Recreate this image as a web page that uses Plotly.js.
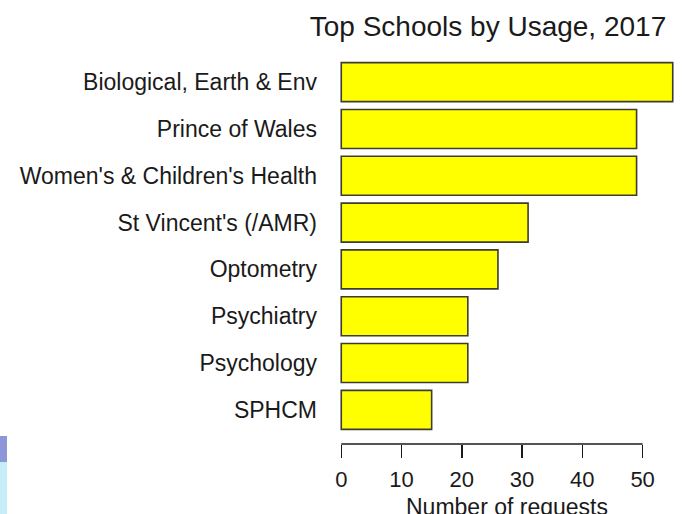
<!DOCTYPE html>
<html>
<head>
<meta charset="utf-8">
<script src="https://cdn.plot.ly/plotly-3.0.1.min.js"></script>
<style>html,body{margin:0;padding:0;background:#fff;}#chart{width:691px;height:514px;}</style>
</head>
<body>
<div id="chart"></div>
<script>
var schools = ["Biological, Earth & Env", "Prince of Wales", "Women's & Children's Health", "St Vincent's (/AMR)", "Optometry", "Psychiatry", "Psychology", "SPHCM"];
var requests = [55, 49, 49, 31, 26, 21, 21, 15];
var tickValues = [0, 10, 20, 30, 40, 50];
var tickLabels = ["0", "10", "20", "30", "40", "50"];
var xAxisTitle = "Number of requests";

var font = "Liberation Sans, Arial, Helvetica, sans-serif";

var trace = {
  type: "bar",
  orientation: "h",
  y: schools,
  x: requests,
  marker: {color: "#ffff00", line: {color: "rgb(60,60,50)", width: 1.6}},
  hoverinfo: "x+y"
};

var layout = {
  width: 691, height: 514,
  margin: {l: 328, r: 5, t: 48, b: 70},
  paper_bgcolor: "#ffffff",
  plot_bgcolor: "#ffffff",
  showlegend: false,
  bargap: 0.167,
  font: {family: font, color: "#1a1a1a"},
  title: {
    text: "Top Schools by Usage, 2017",
    font: {family: font, size: 28, color: "#1a1a1a"},
    x: 488 / 691, xanchor: "center", xref: "container",
    y: 1 - 26 / 514, yanchor: "middle", yref: "container"
  },
  xaxis: {
    range: [-2.2, 57.2],
    tickvals: tickValues,
    ticktext: tickLabels,
    ticks: "outside", ticklen: 13, tickwidth: 1.5, tickcolor: "#1a1a1a",
    ticklabelstandoff: 3,
    showline: false, showgrid: false, zeroline: false,
    tickfont: {family: font, size: 22, color: "#1a1a1a"},
    fixedrange: true
  },
  yaxis: {
    type: "category",
    categoryorder: "array",
    categoryarray: schools,
    range: [7.73, -0.73],
    showline: false, showgrid: false, zeroline: false,
    ticks: "",
    ticklabelstandoff: 10,
    tickfont: {family: font, size: 23, color: "#1a1a1a"},
    fixedrange: true
  },
  annotations: [
    {text: xAxisTitle, xref: "paper", yref: "paper", x: 0.5, y: -(507 - 444) / 396,
     xanchor: "center", yanchor: "middle", showarrow: false,
     font: {family: font, size: 23, color: "#1a1a1a"}}
  ],
  shapes: [
    {type: "line", xref: "x", yref: "paper", x0: tickValues[0], x1: tickValues[tickValues.length - 1], y0: 0, y1: 0,
     line: {color: "#1a1a1a", width: 1.5}},
    {type: "rect", xref: "paper", yref: "paper", x0: -328/ (691-333), x1: -321 / (691-333), y0: -70/396, y1: 8/396,
     fillcolor: "#c6eef8", line: {width: 0}, layer: "below"},
    {type: "rect", xref: "paper", yref: "paper", x0: -328/ (691-333), x1: -321 / (691-333), y0: -18/396, y1: 8/396,
     fillcolor: "#8c96d8", line: {width: 0}, layer: "below"}
  ]
};

Plotly.newPlot("chart", [trace], layout, {displayModeBar: false, staticPlot: true});
</script>
</body>
</html>
